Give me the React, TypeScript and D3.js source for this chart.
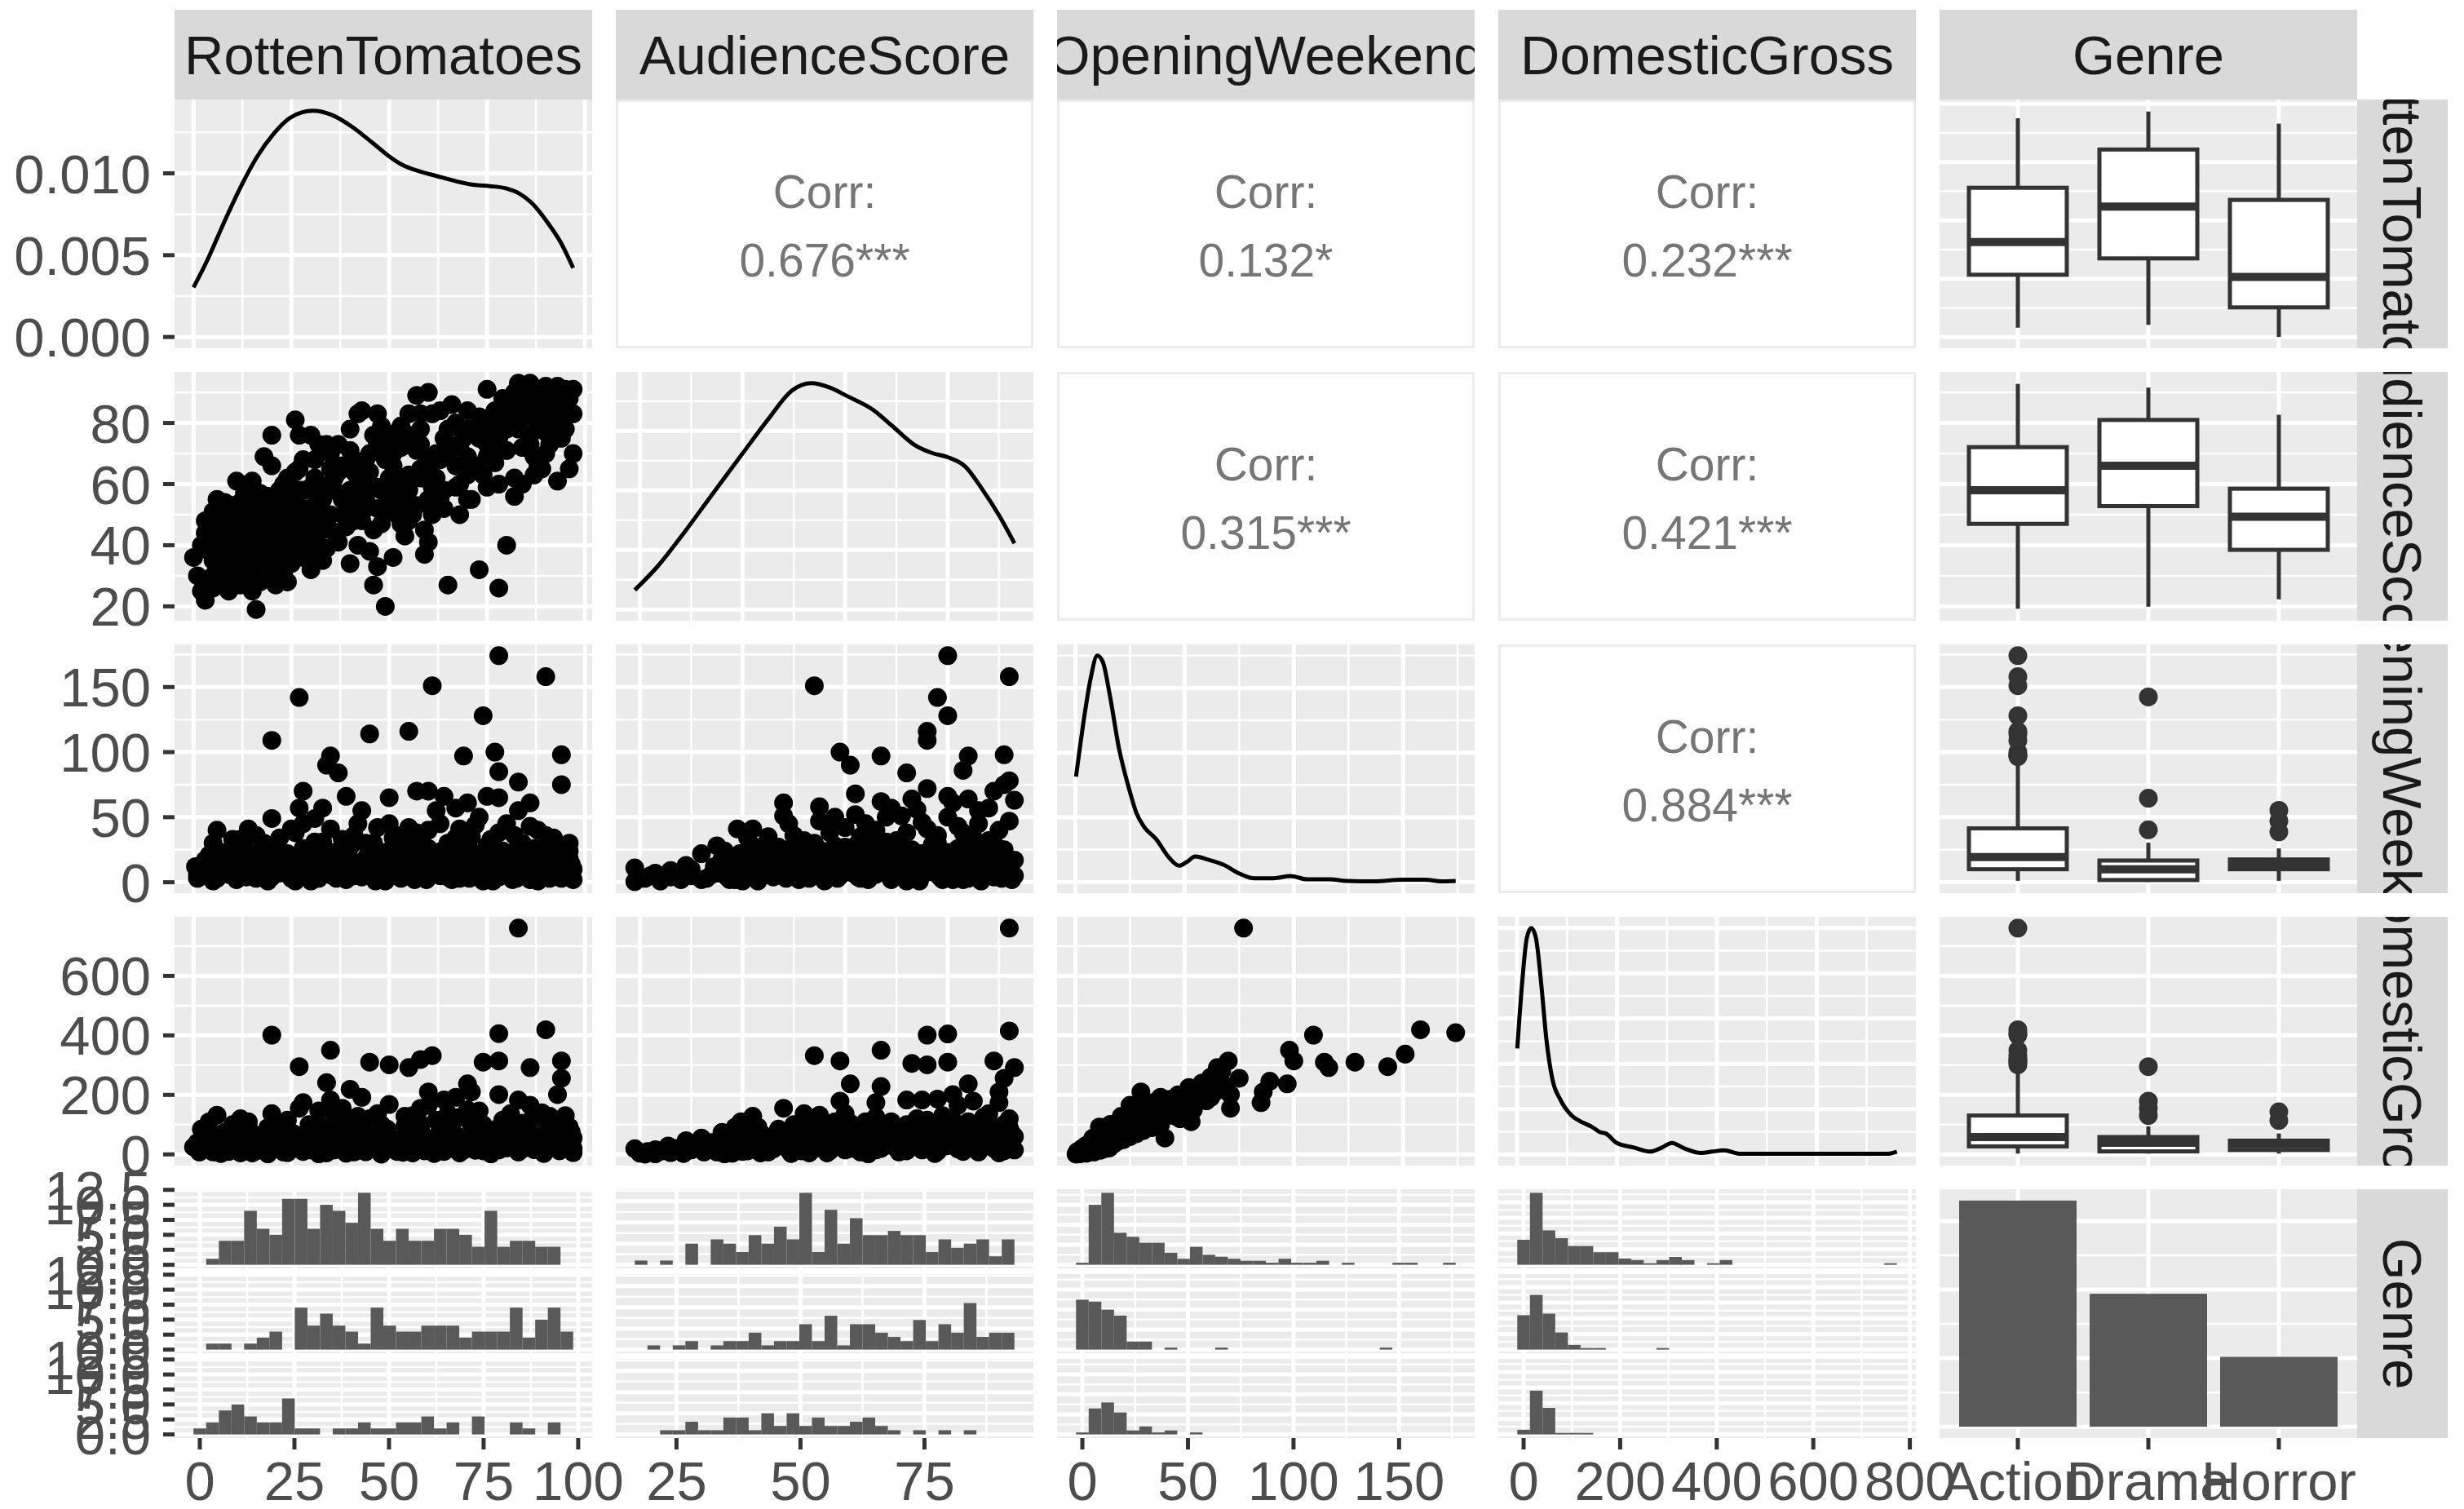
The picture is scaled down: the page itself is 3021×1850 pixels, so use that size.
import React from "react";
import * as d3 from "d3";

// ---------- variables & categories ----------
const variables = ["RottenTomatoes", "AudienceScore", "OpeningWeekend", "DomesticGross", "Genre"];
const genres = ["Action", "Drama", "Horror"];
const genreCounts = [165, 97, 51];

// observed ranges of the four numeric variables
const rtRange = [0, 97];
const audRange = [19, 93];
const openRange = [0.3, 174.1];
const grossRange = [0.4, 760.5];

// axis breaks
const rtBreaks = [0, 25, 50, 75, 100];
const rtMinor = [12.5, 37.5, 62.5, 87.5];
const audBreaks = [20, 40, 60, 80];
const audMinor = [30, 50, 70, 90];
const audHistBreaks = [25, 50, 75];
const audHistMinor = [37.5, 62.5, 87.5];
const openBreaks = [0, 50, 100, 150];
const openMinor = [25, 75, 125, 175];
const grossBreaks = [0, 200, 400, 600];
const grossMinor = [100, 300, 500, 700];
const grossHistBreaks = [0, 200, 400, 600, 800];
const grossHistMinor = [100, 300, 500, 700];

// density breaks (diagonal panels)
const rtDensBreaks = [0, 0.005, 0.01];
const rtDensMinor = [0.0025, 0.0075, 0.0125];
const audDensBreaks = [0, 0.005, 0.01, 0.015];
const audDensMinor = [0.0025, 0.0075, 0.0125, 0.0175];
const openDensBreaks = [0, 0.01, 0.02, 0.03];
const openDensMinor = [0.005, 0.015, 0.025, 0.035];
const grossDensBreaks = [0, 0.001, 0.002, 0.003, 0.004, 0.005];
const grossDensMinor = [0.0005, 0.0015, 0.0025, 0.0035, 0.0045];

// count breaks for the faceted histograms
const rtCountBreaks = [0, 2.5, 5, 7.5, 10, 12.5];
const rtCountMinor = [1.25, 3.75, 6.25, 8.75, 11.25];
const audCountBreaks = [0, 5, 10, 15];
const audCountMinor = [2.5, 7.5, 12.5, 17.5];
const openCountBreaks = [0, 10, 20, 30];
const openCountMinor = [5, 15, 25, 35];
const grossCountBreaks = [0, 10, 20, 30, 40];
const grossCountMinor = [5, 15, 25, 35, 45];
const barBreaks = [0, 50, 100, 150];
const barMinor = [25, 75, 125];

// correlation labels (upper triangle)
const corrLabels = [
  { row: 0, col: 1, text: "0.676***" },
  { row: 0, col: 2, text: "0.132*" },
  { row: 0, col: 3, text: "0.232***" },
  { row: 1, col: 2, text: "0.315***" },
  { row: 1, col: 3, text: "0.421***" },
  { row: 2, col: 3, text: "0.884***" },
];

// ---------- kernel density curves ----------
const rtDensity = [[0,0.00303],[3.4,0.00463],[7.7,0.00695],[11.9,0.0091],[16.2,0.011],[20.4,0.0124],[24.7,0.0134],[30.5,0.01382],[35.3,0.01357],[40.6,0.01283],[45.9,0.01183],[50.2,0.011],[53.4,0.01051],[57.6,0.01013],[61.9,0.00985],[67.2,0.00951],[71.5,0.0093],[75.7,0.00922],[80,0.00907],[83.2,0.00877],[86.4,0.00819],[90.6,0.00695],[93.8,0.00579],[97,0.00422]];
const audDensity = [[19,0.00163],[23.4,0.00359],[28.8,0.00656],[34.2,0.00973],[39.7,0.01292],[45.2,0.01609],[49.6,0.01837],[53.4,0.019],[57.2,0.0186],[60.4,0.01792],[65.4,0.01678],[69.2,0.01541],[73.5,0.01383],[76.9,0.01315],[80.1,0.01277],[83.4,0.01201],[86.6,0.01018],[90,0.0079],[93,0.00555]];
const openDensity = [[0.3,0.01628],[4.5,0.0265],[7,0.0315],[10,0.035],[12.6,0.03399],[15.6,0.0292],[20,0.0206],[24.5,0.0145],[28,0.0106],[31.5,0.0085],[37,0.0066],[43,0.0037],[47.5,0.0025],[51,0.00308],[54.9,0.00392],[60.1,0.0035],[67.7,0.00266],[75.4,0.00123],[81.8,0.00056],[90.8,0.00056],[98.5,0.00091],[106.1,0.00039],[116.4,0.00039],[124,0.00014],[136.9,0.00007],[149.8,0.00032],[160,0.00032],[167.7,0.00007],[174.1,0.00014]];
const grossDensity = [[0.4,0.00234],[10.5,0.00384],[19.6,0.00479],[28.5,0.005],[37.6,0.00479],[47.7,0.00384],[58.9,0.00252],[70.3,0.00168],[87.1,0.0012],[109.9,0.00085],[131.9,0.0007],[149.4,0.00061],[166.1,0.00049],[177.5,0.00046],[199.5,0.00025],[233.8,0.00015],[267.2,0.00006],[290,0.00015],[309.8,0.00025],[334.8,0.00013],[368.3,0.00003],[391.1,0.00006],[413.9,0.00009],[447.3,0.00001],[515,0.00001],[627.5,0.00001],[740,0.00001],[760.5,0.00006]];

// ---------- boxplot summaries: [lower whisker, Q1, median, Q3, upper whisker] per genre ----------
const rtBox = [[4, 26.7, 40.7, 64, 93.8], [5.2, 33.7, 55.9, 80.4, 96.7], [0, 12.7, 25.8, 58.8, 91.5]];
const audBox = [[19.2, 47, 58, 72.1, 92.8], [19.9, 52.8, 66, 81, 91.6], [22.3, 38.5, 49.3, 58.5, 82.7]];
const openBox = [[1.1, 10, 19.4, 41.4, 90.4], [0.3, 1.7, 10, 16.7, 30.4], [1.1, 10, 13.8, 17.5, 26]];
const grossBox = [[2.8, 26.9, 58.4, 130.7, 292], [2.8, 10.1, 39.2, 58.4, 94.6], [2.8, 14.8, 34.3, 46.3, 70.5]];
const rtOutliers = [[], [], []];
const audOutliers = [[], [], []];
const openOutliers = [[174.1, 158, 151, 128, 116, 114, 109, 100, 98, 97.4, 96.6], [142.4, 64.6, 40.3], [55.3, 47.1, 38.7]];
const grossOutliers = [[760.5, 419, 406, 401, 350, 332, 319, 314, 310, 301], [295, 179, 155, 131], [143, 114]];

// ---------- histogram counts (30 bins) per genre ----------
const rtHist = [
  [0,1,4,4,9,6,5,11,11,6,10,9,7,12,6,4,6,4,4,6,6,5,3,9,3,4,4,3,3,0],
  [0,1,1,0,1,2,3,0,7,4,6,4,3,1,7,4,3,3,4,4,4,2,3,3,3,7,2,5,7,3],
  [1,2,4,5,3,2,2,6,1,1,0,1,1,2,1,1,2,2,3,1,2,0,3,0,0,2,1,0,2,0],
];
const audHist = [
  [1,0,1,0,5,0,6,5,3,7,5,9,6,17,3,13,5,11,7,7,8,7,7,3,6,4,5,6,2,6],
  [0,1,0,1,2,0,1,2,2,4,1,2,2,6,2,8,1,6,6,4,3,2,7,2,6,4,11,3,4,4],
  [0,0,1,1,3,1,1,4,4,1,5,2,5,2,4,2,2,3,4,2,1,0,1,0,1,0,1,0,0,0],
];
const openHist = [
  [1,30,36,16,14,11,11,6,3,9,5,4,3,2,2,1,3,1,1,2,0,1,0,0,0,1,1,0,0,1],
  [25,24,20,17,4,4,0,1,0,0,0,1,0,0,0,0,0,0,0,0,0,0,0,0,1,0,0,0,0,0],
  [1,13,16,11,2,4,1,2,0,1,0,0,0,0,0,0,0,0,0,0,0,0,0,0,0,0,0,0,0,0],
];
const grossHist = [
  [16,46,22,17,12,12,8,8,4,3,1,3,5,3,0,1,3,0,0,0,0,0,0,0,0,0,0,0,0,1],
  [22,35,23,11,3,1,1,0,0,0,0,1,0,0,0,0,0,0,0,0,0,0,0,0,0,0,0,0,0,0],
  [3,28,17,1,1,1,0,0,0,0,0,0,0,0,0,0,0,0,0,0,0,0,0,0,0,0,0,0,0,0],
];

// ---------- scatter points ----------
const rtAudience = [[75,91],[83,93],[86,93],[90,92],[93,92],[95,91],[97,91],[95,89],[87,89],[84,87],[80,86],[77,84],[74,80],[78,82],[81,83],[91,87],[96,83],[97,83],[93,82],[88,83],[85,82],[83,78],[86,73],[87,69],[91,73],[93,78],[90,77],[78,75],[77,72],[75,69],[73,75],[70,78],[67,80],[65,78],[64,75],[65,73],[68,73],[70,69],[72,66],[77,67],[74,63],[70,63],[67,66],[64,69],[63,68],[60,66],[61,83],[63,84],[66,86],[70,84],[57,89],[60,90],[58,83],[55,83],[53,79],[55,76],[52,77],[50,75],[48,73],[47,73],[44,68],[41,68],[43,84],[42,83],[47,83],[48,79],[46,76],[40,71],[37,73],[34,73],[31,68],[28,68],[26,64],[26,81],[27,76],[30,76],[32,73],[35,70],[38,66],[41,64],[44,60],[47,59],[50,60],[53,62],[55,63],[58,62],[61,59],[64,58],[67,59],[68,60],[71,55],[68,50],[64,52],[60,55],[57,53],[54,53],[52,56],[50,55],[47,52],[44,52],[41,48],[38,50],[35,50],[34,46],[32,44],[31,40],[30,43],[27,45],[25,48],[22,47],[21,48],[20,47],[18,46],[17,45],[15,48],[14,50],[12,50],[10,53],[8,54],[7,52],[5,51],[4,46],[6,43],[7,41],[9,43],[12,45],[14,41],[16,39],[17,36],[15,34],[14,32],[11,33],[9,34],[7,32],[5,30],[4,29],[3,22],[0,36],[8,30],[10,29],[14,29],[15,25],[17,28],[16,19],[21,27],[23,31],[25,34],[28,36],[31,36],[34,39],[37,41],[40,34],[45,38],[47,33],[46,27],[49,20],[51,36],[54,43],[59,45],[60,41],[59,37],[65,27],[73,32],[78,26],[80,40],[11,61],[15,61],[20,76],[18,69],[20,66],[27,65],[23,60],[24,57],[21,55],[18,53],[15,53],[12,54],[27,58],[30,59],[32,57],[35,60],[37,64],[40,58],[43,57],[44,55],[49,68],[51,66],[53,72],[57,71],[58,73],[75,59],[78,60],[82,56],[84,60],[87,63],[89,65],[93,61],[83,80],[75,73],[80,71],[86,76],[8,45],[10,40],[12,38],[14,47],[18,40],[20,42],[22,38],[24,44],[26,50],[28,52],[30,47],[33,55],[36,58],[38,55],[40,52],[42,62],[45,64],[48,58],[50,62],[52,50],[55,58],[58,65],[60,68],[62,62],[65,70],[68,72],[70,65],[72,78],[76,82],[80,78],[84,72],[88,80],[92,88],[94,86],[6,47],[9,48],[13,52],[17,50],[19,44],[23,49],[27,40],[29,37],[32,48],[35,45],[39,46],[43,48],[46,45],[49,52],[53,47],[56,50],[61,50],[63,55]];
const rtAudienceDense = [[2,40],[3,44],[4,38],[5,35],[6,33],[7,45],[8,37],[9,40],[10,35],[11,42],[11,47],[12,30],[13,36],[13,43],[14,38],[15,42],[16,46],[16,33],[17,40],[18,36],[19,48],[19,38],[20,34],[21,44],[22,41],[22,52],[23,36],[24,40],[25,45],[25,55],[26,38],[27,48],[28,44],[28,58],[29,50],[30,40],[31,53],[32,60],[33,45],[34,50],[36,62],[41,55],[48,47],[54,60],[62,70],[69,75],[73,82],[76,78],[79,88],[82,90],[85,85],[88,86],[91,80],[94,75],[96,88],[89,91],[92,84],[85,90],[79,80],[58,78],[51,70],[45,70],[40,78],[35,65],[31,62],[29,58],[26,53],[24,62],[22,58],[19,56],[17,57],[13,57],[10,47],[8,50],[6,55],[4,42],[3,48],[1,30],[2,25],[5,26],[9,25],[12,27],[20,30],[24,28],[30,32],[33,35],[42,40],[55,48],[70,55],[82,62],[88,66],[90,70],[95,78],[97,70],[96,65]];

const rtOpeningTail = [[78,174.1],[90,158],[61,151],[27,142],[74,128],[55,116],[45,114],[20,109],[77,100],[94,98],[69,97],[35,97],[34,90],[37,84],[78,85],[94,75],[83,77],[28,70],[27,57],[39,66],[50,65],[57,70],[60,70],[64,66],[67,57],[70,61],[75,66],[78,65],[83,55],[86,61],[20,49],[31,49],[33,57],[43,55],[50,45],[60,40],[68,41],[73,50],[78,38],[82,36],[86,43],[90,36],[91,28],[6,40],[14,41],[12,33],[25,41],[28,45],[35,41],[41,36],[51,34],[57,38],[67,34],[93,26],[96,24],[5,30],[10,33],[16,36],[22,34],[26,38],[31,31],[38,33],[44,30],[47,42],[53,36],[58,31],[63,45],[66,30],[71,35],[76,33],[80,45],[84,30],[88,40],[92,34],[96,30],[72,44],[62,55],[55,42],[42,45],[18,30]];
const rtOpeningCore = [[0.5,12],[2,5],[3,17],[4.5,8],[5,1],[7,14],[8,23],[9,6],[10.5,10],[11,2],[12.5,19],[13,27],[14.5,9],[15,15],[16,3],[18,21],[18.5,11],[19,1],[20.5,16],[21,29],[22,7],[23.5,13],[24,22],[25,3],[26.5,18],[27,9],[28,26],[29,13],[30,1],[31.5,20],[32,8],[33,31],[34,14],[35.5,5],[36,23],[37,11],[38.5,18],[39,2],[40,27],[41.5,9],[42,15],[43,4],[44.5,21],[45,12],[46,30],[47,7],[48.5,17],[49,1],[50,24],[51,10],[52.5,19],[53,3],[54,28],[55.5,13],[56,6],[57,22],[58,16],[59.5,2],[60,26],[61,11],[62.5,20],[63,5],[64,14],[65,30],[66.5,8],[67,19],[68,3],[69.5,25],[70,12],[71,7],[72,22],[73.5,16],[74,1],[75,28],[76,10],[77.5,18],[78,4],[79,24],[80.5,13],[81,6],[82,20],[83,31],[84.5,9],[85,15],[86,2],[87,26],[88.5,12],[89,19],[90,5],[91,23],[92.5,10],[93,16],[94,3],[95,21],[96,8],[96.5,14],[97,2],[95.5,27],[88,1],[82.5,3],[76.5,1],[66,2],[57.5,4],[46.5,1],[36.5,3],[26,1],[15.5,8],[6,20],[1,3],[1,6],[2.5,14],[4,21],[6,3],[7.5,9],[9,17],[10,26],[12,12],[13.5,4],[15,22],[17,8],[18,14],[20,4],[21.5,10],[23,18],[24.5,6],[26,12],[27.5,22],[29,7],[30.5,15],[32,3],[33.5,11],[35,19],[36.5,8],[38,14],[39.5,24],[41,5],[42.5,12],[44,18],[45.5,7],[47,3],[48,23],[49.5,12],[51,5],[52,14],[53.5,21],[55,9],[56.5,2],[58,11],[59,19],[60.5,7],[62,15],[63.5,24],[65,4],[66,13],[67.5,9],[69,18],[70.5,3],[72,11],[73,19],[74.5,7],[76,22],[77,14],[78.5,9],[80,17],[81.5,2],[83,11],[84,24],[85.5,6],[87,18],[88,9],[89.5,14],[91,3],[92,20],[93.5,8],[95,13],[96,18],[97,10]];

const audOpeningTail = [[80,174.1],[92,158],[54,151],[78,142],[80,128],[76,116],[76,109],[59,100],[67,97],[91,98],[61,90],[84,97],[83,86],[72,84],[91,75],[89,70],[93,63],[92,78],[76,72],[62,68],[67,62],[55,58],[48,61],[48,51],[80,66],[81,61],[88,57],[73,64],[69,57],[71,51],[76,41],[82,43],[78,36],[85,34],[90,26],[42,41],[41,34],[49,45],[55,47],[58,50],[64,45],[39,41],[35,28],[32,22],[29,13],[26,9],[22,5],[19,0.5],[19,11],[45,35],[52,32],[57,38],[60,42],[63,35],[66,40],[70,32],[72,38],[75,46],[78,30],[80,50],[83,38],[86,45],[88,32],[90,40],[92,47],[86,55],[68,50],[62,52],[50,36],[74,56],[84,64],[65,33]];
const audOpeningCore = [[33,3],[34.5,12],[35.5,7],[36,18],[37.5,2],[38,10],[39.5,22],[40.5,5],[41,14],[42.5,27],[43,1],[44,9],[45.5,19],[46,4],[47.5,13],[48,25],[49,8],[50.5,16],[51,2],[52,21],[53.5,11],[54,30],[55,6],[56.5,15],[57,24],[58.5,3],[59,12],[60,19],[61.5,7],[62,28],[63,14],[64.5,2],[65,22],[66,9],[67.5,17],[68,31],[69,5],[70.5,13],[71,26],[72,1],[73.5,10],[74,20],[75.5,7],[76,15],[77,29],[78.5,4],[79,12],[80,23],[81.5,8],[82,18],[83,2],[84.5,27],[85,11],[86,16],[87.5,6],[88,21],[89,13],[90.5,3],[91,25],[92,9],[93,17],[92.5,2],[90,14],[88.5,31],[86.5,1],[84,20],[82.5,9],[80.5,3],[78,19],[76.5,24],[74.5,1],[72.5,12],[70,20],[68.5,8],[66.5,26],[64,14],[62.5,4],[60.5,24],[58,28],[56,1],[54.5,18],[52.5,6],[50,26],[48.5,3],[46.5,22],[44.5,16],[42,6],[40,12],[38.5,2],[36.5,24],[30,5],[28,2],[26,4],[24,1],[23,7],[21,3],[30,10],[32,2],[34,6],[36,11],[37,4],[39,15],[40,1],[42,10],[43,18],[45,6],[46,13],[48,19],[49,4],[50,10],[52,15],[53,3],[54,21],[56,9],[57,14],[58,20],[59,5],[61,11],[62,17],[63,3],[64,23],[66,6],[67,12],[68,18],[69,2],[70,9],[71,16],[73,5],[74,13],[75,22],[77,8],[78,14],[79,2],[80,18],[81,11],[82,26],[83,6],[84,14],[85,21],[86,3],[87,10],[88,17],[89,4],[90,22],[91,8],[92,13],[93,5],[91,18],[87,24],[84,3],[81,2],[77,19],[73,25],[69,24],[65,27],[60,27],[55,25],[51,24],[47,27],[44,23],[41,20],[38,18]];

const rtGrossTail = [[83,760.5],[20,401],[78,406],[90,419],[35,350],[27,295],[45,310],[50,301],[55,292],[58,319],[61,332],[74,310],[78,314],[86,292],[94,314],[94,256],[93,201],[34,241],[40,219],[43,192],[50,168],[60,210],[60,165],[64,183],[70,237],[71,210],[78,201],[83,183],[6,132],[14,110],[20,137],[27,155],[28,174],[32,146],[35,183],[38,155],[42,128],[47,137],[54,128],[58,155],[65,137],[67,192],[73,146],[81,137],[86,165],[87,137],[91,128],[96,92],[97,55],[14,92],[4,110],[12,120],[19,90],[24,115],[33,95],[38,110],[45,120],[48,100],[56,130],[62,115],[68,125],[74,100],[80,120],[84,105],[89,140],[93,110],[95,130],[70,150],[58,90],[36,140]];
const rtGrossCore = [[0,25],[1.5,8],[3,60],[4,18],[5.5,40],[7,3],[8,75],[9.5,22],[11,50],[12,5],[13.5,88],[15,30],[16,12],[17.5,62],[19,2],[20,45],[21.5,95],[23,20],[24,6],[25.5,70],[27,35],[28,10],[29.5,100],[31,55],[32,2],[33.5,28],[35,80],[36,15],[37.5,48],[39,4],[40,68],[41.5,25],[43,105],[44,9],[45.5,58],[47,33],[48,1],[49.5,85],[51,17],[52,45],[53.5,7],[55,72],[56,28],[57.5,110],[59,12],[60,52],[61.5,3],[63,90],[64,38],[65.5,20],[67,65],[68,5],[69.5,42],[71,98],[72,14],[73.5,77],[75,30],[76,2],[77.5,55],[79,115],[80,22],[81.5,68],[83,8],[84,40],[85.5,95],[87,16],[88,60],[89.5,3],[91,35],[92,85],[93.5,12],[95,50],[96,25],[97,6],[96.5,75],[90,110],[78,90],[66,100],[54,95],[42,82],[30,78],[18,70],[6,45],[2,85],[10,100],[1,40],[2,15],[3,30],[5,8],[6,60],[7,25],[8,45],[9,10],[10,30],[12,55],[13,20],[14,40],[15,5],[17,30],[18,50],[19,15],[21,35],[22,60],[23,8],[25,45],[26,20],[27,60],[28,35],[30,15],[31,40],[33,55],[34,5],[35,30],[37,60],[38,20],[40,42],[41,8],[43,30],[44,55],[46,18],[47,45],[49,30],[50,60],[52,10],[53,35],[55,50],[56,5],[58,30],[59,60],[61,20],[62,45],[64,10],[65,55],[66,30],[68,40],[69,15],[71,55],[72,35],[74,12],[75,60],[77,40],[78,15],[80,50],[81,30],[83,60],[84,18],[86,45],[87,28],[89,55],[90,15],[92,40],[93,25],[95,60],[96,35],[97,20]];

const audGrossTail = [[92,760.5],[92,415],[80,405],[76,401],[67,350],[54,332],[59,314],[73,306],[76,301],[80,310],[89,314],[93,292],[91,256],[61,237],[67,228],[90,210],[48,155],[42,128],[40,101],[55,132],[59,179],[60,137],[66,174],[72,183],[75,183],[78,186],[81,201],[84,237],[82,165],[85,179],[88,137],[90,174],[91,101],[52,137],[43,92],[19,19],[21,1],[23,16],[25.5,28],[29,46],[32,55],[36,74],[38.6,92],[39.7,110]];
const audGrossCore = [[20,4],[21.5,10],[23,2],[24.5,12],[26,6],[27,20],[28.5,3],[30,15],[31,30],[32.5,8],[34,40],[35,18],[36.5,2],[37.5,55],[38.5,25],[40,10],[41,70],[42.5,35],[43.5,5],[44.5,50],[46,18],[47,85],[48,30],[49.5,3],[50.5,62],[51.5,12],[53,40],[54,95],[55,22],[56.5,5],[57.5,75],[58.5,48],[60,15],[61,105],[62,30],[63.5,60],[64.5,2],[65.5,85],[67,20],[68,45],[69,110],[70.5,8],[71.5,70],[72.5,35],[74,95],[75,15],[76,55],[77.5,3],[78.5,80],[79.5,28],[81,115],[82,45],[83,10],[84.5,68],[85.5,100],[86.5,22],[88,52],[89,85],[90,5],[91.5,35],[92.5,70],[93,15],[92,120],[87,125],[83,90],[79,130],[74,120],[70,90],[66,125],[62,85],[58,110],[54,70],[50,100],[46,60],[35,8],[37,20],[38,4],[40,30],[41,12],[43,45],[44,22],[45,8],[46,35],[47,55],[49,15],[50,40],[51,28],[52,60],[53,5],[55,45],[56,30],[57,12],[58,60],[59,35],[60,70],[61,20],[62,50],[63,8],[64,35],[65,65],[66,15],[67,50],[68,30],[69,75],[70,20],[71,48],[72,12],[73,62],[74,35],[75,80],[76,25],[77,60],[78,10],[79,45],[80,30],[81,70],[82,18],[83,55],[84,40],[85,80],[86,8],[87,35],[88,65],[89,20],[90,50],[91,12],[92,40],[93,60],[92,90],[88,100],[84,110],[80,95],[76,115],[72,100],[68,95],[64,110],[60,90],[56,85],[52,90],[48,75],[44,65],[40,50]];

const openGrossTail = [[77,760.5],[174.1,409],[158,419],[109,401],[151,337],[143,295],[128,310],[116,292],[114,310],[98,350],[100,314],[97,237],[89,246],[85,174],[86,210],[75,256],[70,314],[65,292],[62,237],[71,201],[71,155],[62,192],[55,174],[53,110],[41,55],[46,128],[39,192],[30,210],[25,165],[21,128],[16,101],[11,92],[8,55]];
const openGrossCore = [[0.3,1],[0.8,6],[1.5,3],[2,12],[2.5,5],[3,20],[3.5,9],[4,15],[4.5,28],[5,4],[5.5,22],[6,35],[6.5,12],[7,18],[7.5,42],[8,25],[8.5,8],[9,50],[9.5,32],[10,20],[10.5,60],[11,40],[11.5,14],[12,48],[12.5,70],[13,30],[13.5,55],[14,80],[14.5,38],[15,62],[15.5,22],[16,90],[16.5,50],[17,72],[17.5,35],[18,100],[18.5,58],[19,82],[19.5,44],[20,110],[21,68],[21.5,92],[22,50],[23,120],[23.5,78],[24,100],[25,60],[25.5,135],[26,88],[27,110],[28,70],[28.5,150],[29,95],[30,125],[31,80],[32,160],[33,105],[34,140],[35,90],[36,175],[37,120],[38,150],[39,100],[40,170],[42,130],[43,185],[45,150],[47,200],[48,120],[50,175],[52,225],[54,150],[56,200],[58,240],[60,180],[62,260],[65,215],[67,280],[69,230],[1,10],[2,2],[3,14],[4,6],[5,18],[6,8],[7,28],[8,14],[9,38],[10,30],[11,25],[12,32],[13,45],[14,20],[15,50],[16,35],[17,55],[18,40],[19,65],[20,75],[21,50],[22,85],[24,70],[26,100],[27,80],[29,110],[31,100],[33,120],[35,130],[38,115],[41,140],[44,160],[46,170],[49,150],[51,190],[53,200]];

// ---------- layout ----------
const W = 3021;
const H = 1850;
const PW = 512;
const PH = 305;
const COL0 = 214;
const COL_STEP = 541;
const ROW0 = 122;
const ROW_STEP = 334;
const STRIP_Y = 12;
const STRIP_H = 110;
const RSTRIP_X = 2890;
const RSTRIP_W = 111;
const FACET_H = 97;
const FACET_STEP = 104;
const FONT = "'Liberation Sans', Arial, Helvetica, sans-serif";
const FS = 67;
const HALF_CAP = 24;
const PANEL_BG = "#EBEBEB";
const GRID_MAJOR = 5;
const GRID_MINOR = 2.5;
const TICK_LEN = 14;
const AXIS_TEXT = "#4D4D4D";
const TICK_COL = "#333333";
const POINT_R = 11.5;

const colX = (i) => COL0 + i * COL_STEP;
const rowY = (j) => ROW0 + j * ROW_STEP;

const ranges = [rtRange, audRange, openRange, grossRange];
const majors = [rtBreaks, audBreaks, openBreaks, grossBreaks];
const minors = [rtMinor, audMinor, openMinor, grossMinor];
const densities = [rtDensity, audDensity, openDensity, grossDensity];
const densMajors = [rtDensBreaks, audDensBreaks, openDensBreaks, grossDensBreaks];
const densMinors = [rtDensMinor, audDensMinor, openDensMinor, grossDensMinor];
const boxes = [rtBox, audBox, openBox, grossBox];
const outliers = [rtOutliers, audOutliers, openOutliers, grossOutliers];
const hists = [rtHist, audHist, openHist, grossHist];
const histXMajors = [rtBreaks, audHistBreaks, openBreaks, grossHistBreaks];
const histXMinors = [rtMinor, audHistMinor, openMinor, grossHistMinor];
const countMajors = [rtCountBreaks, audCountBreaks, openCountBreaks, grossCountBreaks];
const countMinors = [rtCountMinor, audCountMinor, openCountMinor, grossCountMinor];
const scatterSets = {
  "0-1": rtAudience.concat(rtAudienceDense),
  "0-2": rtOpeningTail.concat(rtOpeningCore),
  "1-2": audOpeningTail.concat(audOpeningCore),
  "0-3": rtGrossTail.concat(rtGrossCore),
  "1-3": audGrossTail.concat(audGrossCore),
  "2-3": openGrossTail.concat(openGrossCore),
};

// continuous scale with ggplot's 5% expansion on each side
function contScale(r, a, b) {
  const d = r[1] - r[0];
  return d3.scaleLinear().domain([r[0] - 0.05 * d, r[1] + 0.05 * d]).range([a, b]);
}

// 30 bins, boundary at half a bin width (stat_bin defaults)
function binEdges(r) {
  const w = (r[1] - r[0]) / 29;
  const origin = w / 2 + Math.floor((r[0] - w / 2) / w) * w;
  return d3.range(31).map((k) => origin + k * w);
}

const bandCenter = (x0, k) => x0 + PW * ((k + 0.6) / 3.2);
const bandUnit = PW / 3.2;

function Grid({ x, y, w, h, xMaj, xMin, yMaj, yMin, id }) {
  const okX = (p) => p >= x - 3 && p <= x + w + 3;
  const okY = (p) => p >= y - 3 && p <= y + h + 3;
  return (
    <g>
      <rect x={x} y={y} width={w} height={h} fill={PANEL_BG} />
      {yMin.filter(okY).map((p, k) => (
        <line key={id + "ym" + k} x1={x} x2={x + w} y1={p} y2={p} stroke="#fff" strokeWidth={GRID_MINOR} />
      ))}
      {xMin.filter(okX).map((p, k) => (
        <line key={id + "xm" + k} x1={p} x2={p} y1={y} y2={y + h} stroke="#fff" strokeWidth={GRID_MINOR} />
      ))}
      {yMaj.filter(okY).map((p, k) => (
        <line key={id + "yM" + k} x1={x} x2={x + w} y1={p} y2={p} stroke="#fff" strokeWidth={GRID_MAJOR} />
      ))}
      {xMaj.filter(okX).map((p, k) => (
        <line key={id + "xM" + k} x1={p} x2={p} y1={y} y2={y + h} stroke="#fff" strokeWidth={GRID_MAJOR} />
      ))}
    </g>
  );
}

export default function App() {
  const defs = [];
  const panels = [];
  const axes = [];
  const strips = [];

  const addClip = (id, x, y, w, h) => {
    defs.push(
      <clipPath id={id} key={id}>
        <rect x={x} y={y} width={w} height={h} />
      </clipPath>
    );
    return `url(#${id})`;
  };

  const densityLine = (xs, ys) =>
    d3.line().x((d) => xs(d[0])).y((d) => ys(d[1])).curve(d3.curveMonotoneX);

  for (let j = 0; j < 5; j++) {
    for (let i = 0; i < 5; i++) {
      const x0 = colX(i);
      const y0 = rowY(j);
      const key = `p${i}-${j}`;
      const clip = addClip("c" + key, x0, y0, PW, PH);

      if (i < 4 && j < 4) {
        if (i === j) {
          // diagonal density
          const dens = densities[i];
          const xs = contScale(ranges[i], x0, x0 + PW);
          const ys = contScale([0, d3.max(dens, (d) => d[1])], y0 + PH, y0);
          panels.push(
            <g key={key} clipPath={clip}>
              <Grid id={key} x={x0} y={y0} w={PW} h={PH}
                xMaj={majors[i].map(xs)} xMin={minors[i].map(xs)}
                yMaj={densMajors[i].map(ys)} yMin={densMinors[i].map(ys)} />
              <path d={densityLine(xs, ys)(dens)} fill="none" stroke="#000" strokeWidth={5} />
            </g>
          );
        } else if (i > j) {
          // correlation text
          const c = corrLabels.find((e) => e.row === j && e.col === i);
          const cx = x0 + PW / 2;
          const cy = y0 + PH / 2;
          panels.push(
            <g key={key}>
              <rect x={x0 + 1.5} y={y0 + 1.5} width={PW - 3} height={PH - 3} fill="#fff" stroke={PANEL_BG} strokeWidth={3} />
              <text x={cx} y={cy - 19.5} textAnchor="middle" fontSize={57} fill="#767676">Corr:</text>
              <text x={cx} y={cy + 64.5} textAnchor="middle" fontSize={57} fill="#767676">{c ? c.text : ""}</text>
            </g>
          );
        } else {
          // scatter
          const pts = scatterSets[`${i}-${j}`] || [];
          const xs = contScale(ranges[i], x0, x0 + PW);
          const ys = contScale(ranges[j], y0 + PH, y0);
          panels.push(
            <g key={key} clipPath={clip}>
              <Grid id={key} x={x0} y={y0} w={PW} h={PH}
                xMaj={majors[i].map(xs)} xMin={minors[i].map(xs)}
                yMaj={majors[j].map(ys)} yMin={minors[j].map(ys)} />
              {pts.map((p, k) => (
                <circle key={k} cx={xs(p[0])} cy={ys(p[1])} r={POINT_R} fill="#000" />
              ))}
            </g>
          );
        }
      } else if (i === 4 && j < 4) {
        // boxplots by genre
        const ys = contScale(ranges[j], y0 + PH, y0);
        const centers = genres.map((_, k) => bandCenter(x0, k));
        const hw = (0.75 * bandUnit) / 2;
        panels.push(
          <g key={key} clipPath={clip}>
            <Grid id={key} x={x0} y={y0} w={PW} h={PH}
              xMaj={centers} xMin={[]}
              yMaj={majors[j].map(ys)} yMin={minors[j].map(ys)} />
            {genres.map((g, k) => {
              const s = boxes[j][k];
              const cx = centers[k];
              return (
                <g key={g}>
                  {outliers[j][k].map((v, m) => (
                    <circle key={m} cx={cx} cy={ys(v)} r={POINT_R} fill="#333333" />
                  ))}
                  <line x1={cx} x2={cx} y1={ys(s[3])} y2={ys(s[4])} stroke="#333333" strokeWidth={5} />
                  <line x1={cx} x2={cx} y1={ys(s[0])} y2={ys(s[1])} stroke="#333333" strokeWidth={5} />
                  <rect x={cx - hw} y={ys(s[3])} width={2 * hw} height={ys(s[1]) - ys(s[3])}
                    fill="#fff" stroke="#333333" strokeWidth={5} />
                  <line x1={cx - hw} x2={cx + hw} y1={ys(s[2])} y2={ys(s[2])} stroke="#333333" strokeWidth={10} />
                </g>
              );
            })}
          </g>
        );
      } else if (j === 4 && i < 4) {
        // histograms faceted by genre
        const edges = binEdges(ranges[i]);
        const xs = contScale([edges[0], edges[30]], x0, x0 + PW);
        const maxCount = d3.max(hists[i].flat());
        genres.forEach((g, f) => {
          const fy = y0 + f * FACET_STEP;
          const ys = contScale([0, maxCount], fy + FACET_H, fy);
          const fkey = `${key}-${f}`;
          const fclip = addClip("c" + fkey, x0, fy, PW, FACET_H);
          panels.push(
            <g key={fkey} clipPath={fclip}>
              <Grid id={fkey} x={x0} y={fy} w={PW} h={FACET_H}
                xMaj={histXMajors[i].map(xs)} xMin={histXMinors[i].map(xs)}
                yMaj={countMajors[i].map(ys)} yMin={countMinors[i].map(ys)} />
              {hists[i][f].map((c, k) =>
                c > 0 ? (
                  <rect key={k} x={xs(edges[k])} y={ys(c)} width={xs(edges[k + 1]) - xs(edges[k])}
                    height={ys(0) - ys(c)} fill="#595959" />
                ) : null
              )}
            </g>
          );
        });
      } else {
        // genre counts
        const ys = contScale([0, d3.max(genreCounts)], y0 + PH, y0);
        const centers = genres.map((_, k) => bandCenter(x0, k));
        const hw = (0.9 * bandUnit) / 2;
        panels.push(
          <g key={key} clipPath={clip}>
            <Grid id={key} x={x0} y={y0} w={PW} h={PH}
              xMaj={centers} xMin={[]}
              yMaj={barBreaks.map(ys)} yMin={barMinor.map(ys)} />
            {genreCounts.map((c, k) => (
              <rect key={k} x={centers[k] - hw} y={ys(c)} width={2 * hw} height={ys(0) - ys(c)} fill="#595959" />
            ))}
          </g>
        );
      }
    }
  }

  // ---------- left axis ----------
  const leftTick = (key, y, label) => (
    <g key={key}>
      <line x1={COL0 - TICK_LEN} x2={COL0} y1={y} y2={y} stroke={TICK_COL} strokeWidth={5} />
      <text x={COL0 - 29} y={y + HALF_CAP} textAnchor="end" fontSize={FS} fill={AXIS_TEXT}>{label}</text>
    </g>
  );
  {
    const y0 = rowY(0);
    const ys = contScale([0, d3.max(rtDensity, (d) => d[1])], y0 + PH, y0);
    rtDensBreaks.forEach((v, k) => axes.push(leftTick("l0-" + k, ys(v), d3.format(".3f")(v))));
  }
  for (let j = 1; j < 4; j++) {
    const y0 = rowY(j);
    const ys = contScale(ranges[j], y0 + PH, y0);
    majors[j].forEach((v, k) => axes.push(leftTick(`l${j}-${k}`, ys(v), String(v))));
  }
  {
    const y0 = rowY(4);
    const maxCount = d3.max(rtHist.flat());
    genres.forEach((g, f) => {
      const fy = y0 + f * FACET_STEP;
      const ys = contScale([0, maxCount], fy + FACET_H, fy);
      rtCountBreaks.forEach((v, k) => axes.push(leftTick(`l4-${f}-${k}`, ys(v), d3.format(".1f")(v))));
    });
  }

  // ---------- bottom axis ----------
  const yb = rowY(4) + PH;
  const bottomTick = (key, x, label) => (
    <g key={key}>
      <line x1={x} x2={x} y1={yb} y2={yb + TICK_LEN} stroke={TICK_COL} strokeWidth={5} />
      <text x={x} y={1839} textAnchor="middle" fontSize={FS} fill={AXIS_TEXT}>{label}</text>
    </g>
  );
  for (let i = 0; i < 4; i++) {
    const x0 = colX(i);
    const edges = binEdges(ranges[i]);
    const xs = contScale([edges[0], edges[30]], x0, x0 + PW);
    histXMajors[i].forEach((v, k) => axes.push(bottomTick(`b${i}-${k}`, xs(v), String(v))));
  }
  genres.forEach((g, k) => axes.push(bottomTick("b4-" + k, bandCenter(colX(4), k), g)));

  // ---------- strips ----------
  variables.forEach((v, i) => {
    const x0 = colX(i);
    const clip = addClip("st" + i, x0, STRIP_Y, PW, STRIP_H);
    strips.push(
      <g key={"st" + i} clipPath={clip}>
        <rect x={x0} y={STRIP_Y} width={PW} height={STRIP_H} fill="#D9D9D9" />
        <text x={x0 + PW / 2} y={STRIP_Y + STRIP_H / 2 + HALF_CAP} textAnchor="middle" fontSize={FS} fill="#1A1A1A">{v}</text>
      </g>
    );
  });
  variables.forEach((v, j) => {
    const y0 = rowY(j);
    const clip = addClip("sr" + j, RSTRIP_X, y0, RSTRIP_W, PH);
    const cx = RSTRIP_X + RSTRIP_W / 2;
    const cy = y0 + PH / 2;
    strips.push(
      <g key={"sr" + j} clipPath={clip}>
        <rect x={RSTRIP_X} y={y0} width={RSTRIP_W} height={PH} fill="#D9D9D9" />
        <text transform={`translate(${cx},${cy}) rotate(90)`} x={0} y={HALF_CAP} textAnchor="middle" fontSize={FS} fill="#1A1A1A">{v}</text>
      </g>
    );
  });

  return (
    <svg width={W} height={H} viewBox={`0 0 ${W} ${H}`} fontFamily={FONT}
      style={{ position: "absolute", left: 0, top: 0, background: "#fff" }}>
      <defs>{defs}</defs>
      <rect x={0} y={0} width={W} height={H} fill="#fff" />
      {panels}
      {strips}
      {axes}
    </svg>
  );
}
